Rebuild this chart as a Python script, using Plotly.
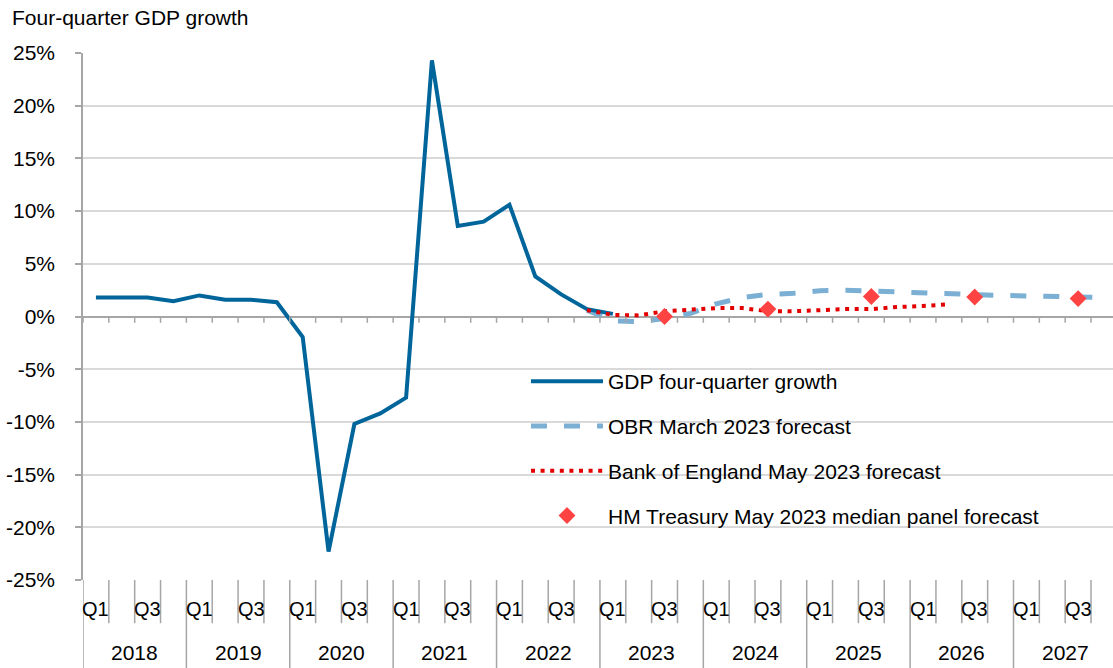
import plotly.graph_objects as go

# ---- data ----
YEARS = list(range(2018, 2028))
QUARTERS = ["Q1", "Q2", "Q3", "Q4"]
PERIODS = [f"{y} {q}" for y in YEARS for q in QUARTERS]
SHOWN_Q = ["Q1", "Q3"]

GDP_START = "2018 Q1"
GDP = [1.8, 1.8, 1.8, 1.45, 2.0, 1.6, 1.6, 1.35, -1.95, -22.3, -10.2, -9.2, -7.7,
       24.3, 8.6, 9.0, 10.6, 3.8, 2.1, 0.7, 0.25]

OBR_START = "2022 Q4"
OBR = [0.6, -0.4, -0.5, -0.2, 0.3, 1.2, 1.8, 2.1, 2.2, 2.45, 2.5, 2.4, 2.3,
       2.2, 2.15, 2.05, 2.0, 1.95, 1.9, 1.85, 1.8]

BOE_START = "2022 Q4"
BOE = [0.6, 0.15, 0.1, 0.5, 0.65, 0.8, 0.8, 0.5, 0.5, 0.6, 0.7, 0.7, 0.9, 1.0, 1.15]

HMT_PERIODS = ["2023 Q3", "2024 Q3", "2025 Q3", "2026 Q3", "2027 Q3"]
HMT = [0.0, 0.7, 1.9, 1.85, 1.7]

YTICKS = [-25, -20, -15, -10, -5, 0, 5, 10, 15, 20, 25]

FONT = "Liberation Sans, Arial, sans-serif"
GRID = "#D9D9D9"
AXIS = "#A6A6A6"


def span(start, vals):
    i0 = PERIODS.index(start)
    return list(range(i0, i0 + len(vals)))


fig = go.Figure()

fig.add_trace(go.Scatter(
    x=span(OBR_START, OBR), y=OBR, mode="lines", name="OBR March 2023 forecast",
    line=dict(color="#7BAFD4", width=5, dash="16px,17px"),
    legendgroup="b", legendrank=2))
fig.add_trace(go.Scatter(
    x=span(GDP_START, GDP), y=GDP, mode="lines", name="GDP four-quarter growth",
    line=dict(color="#00659A", width=4),
    legendgroup="a", legendrank=1))
fig.add_trace(go.Scatter(
    x=span(BOE_START, BOE), y=BOE, mode="lines", name="Bank of England May 2023 forecast",
    line=dict(color="#E30000", width=4, dash="4px,5.6px"),
    legendgroup="c", legendrank=3))
fig.add_trace(go.Scatter(
    x=[PERIODS.index(p) for p in HMT_PERIODS], y=HMT, mode="markers",
    name="HM Treasury May 2023 median panel forecast",
    marker=dict(symbol="diamond", size=13, color="#FF4343"),
    legendgroup="d", legendrank=4))

shapes = []
n = len(PERIODS)
for i in range(n + 1):
    xb = i - 0.5
    # tick marks hanging off the zero line
    shapes.append(dict(type="line", xref="x", yref="y", x0=xb, x1=xb, y0=0, y1=-0.6,
                       line=dict(color=AXIS, width=1.5)))
    # category separators under the plot
    shapes.append(dict(type="line", xref="x", yref="paper", x0=xb, x1=xb, y0=0,
                       y1=-0.168 if i % 4 == 0 else -0.082,
                       line=dict(color=AXIS, width=1.5)))

annotations = []
for y in YEARS:
    for q in SHOWN_Q:
        annotations.append(dict(x=PERIODS.index(f"{y} {q}"), y=0, xref="x", yref="paper",
                                text=q, showarrow=False, yanchor="middle", yshift=-29,
                                font=dict(size=20, color="black", family=FONT)))
    idx = [PERIODS.index(f"{y} {q}") for q in QUARTERS]
    annotations.append(dict(x=sum(idx) / 4, y=0, xref="x", yref="paper", text=str(y),
                            showarrow=False, yanchor="middle", yshift=-72,
                            font=dict(size=21, color="black", family=FONT)))

fig.update_layout(
    width=1113, height=668,
    margin=dict(l=83, r=0, t=53, b=88),
    paper_bgcolor="white", plot_bgcolor="white",
    font=dict(family=FONT, size=21, color="black"),
    shapes=shapes,
    annotations=annotations,
    title=dict(text="Four-quarter GDP growth", xref="container", yref="container",
               x=12 / 1113, y=1 - 18 / 668, xanchor="left", yanchor="middle",
               font=dict(size=21, color="black", family=FONT)),
    xaxis=dict(range=[-0.5, 39.35], showgrid=False, zeroline=False, showticklabels=False,
               ticks="", showline=False, fixedrange=True),
    yaxis=dict(range=[-25, 25], tickvals=YTICKS, ticktext=[f"{v}%" for v in YTICKS],
               showgrid=True, gridcolor=GRID, gridwidth=1.5, zeroline=True,
               zerolinecolor=AXIS, zerolinewidth=1.5, showline=True, linecolor=AXIS,
               linewidth=1.5, ticks="outside", ticklen=6, tickcolor=AXIS, tickwidth=1.5,
               ticklabelstandoff=16, tickfont=dict(size=21, color="black")),
    legend=dict(x=(526 - 83) / 1030, y=(580 - 361) / 527, xanchor="left", yanchor="top",
                bgcolor="rgba(0,0,0,0)", itemwidth=72, tracegroupgap=14.5,
                traceorder="grouped", font=dict(size=21, color="black")),
)

fig.write_html("out.html", config={"displayModeBar": False},
               post_script="document.body.style.margin='0';")
